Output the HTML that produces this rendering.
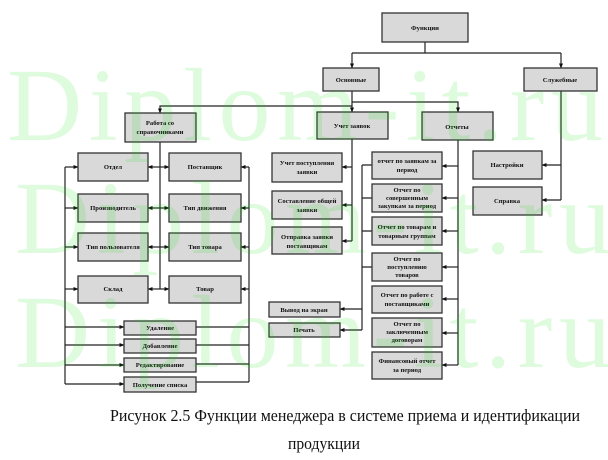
<!DOCTYPE html>
<html><head><meta charset="utf-8"><style>
html,body{margin:0;padding:0;background:#fff;}
svg{display:block;}
.b{fill:#d9d9d9;stroke:#333;stroke-width:1.3;}
.t{font-family:"Liberation Serif",serif;font-size:6.6px;font-weight:bold;fill:#111;text-anchor:middle;}
.l{fill:none;stroke:#222;stroke-width:1.2;}
.a{fill:none;stroke:#222;stroke-width:1.2;marker-end:url(#ah);}
</style></head><body>
<svg width="608" height="460" viewBox="0 0 608 460" xmlns="http://www.w3.org/2000/svg">
<defs>
<marker id="ah" markerWidth="5" markerHeight="5" refX="4.5" refY="2.5" orient="auto" markerUnits="userSpaceOnUse">
<path d="M0,0.5 L5,2.5 L0,4.5 z" fill="#111"/>
</marker>
</defs>

<!-- connectors -->
<path class="l" d="M425,42 V53 M352,53 H561"/>
<path class="a" d="M352,53 V68"/>
<path class="a" d="M561,53 V68"/>
<path class="a" d="M352,91 V112"/>
<path class="a" d="M352,102 H458 V112"/>
<path class="a" d="M352,106 H160 V113"/>
<path class="l" d="M561,91 V200"/>
<path class="a" d="M561,165 H542"/>
<path class="a" d="M561,200 H542"/>
<path class="l" d="M352,139 V241"/>
<path class="a" d="M352,167 H342"/>
<path class="a" d="M352,205 H342"/>
<path class="a" d="M352,241 H342"/>
<path class="l" d="M458,140 V365"/>
<path class="a" d="M458,166 H442"/>
<path class="a" d="M458,198 H442"/>
<path class="a" d="M458,231 H442"/>
<path class="a" d="M458,267 H442"/>
<path class="a" d="M458,299 H442"/>
<path class="a" d="M458,333 H442"/>
<path class="a" d="M458,365 H442"/>
<path class="l" d="M362,165 V330 M362,165 H372 M362,198 H372 M362,231 H372 M362,267 H372"/>
<path class="a" d="M362,309 H340"/>
<path class="a" d="M362,330 H340"/>
<path class="l" d="M160,142 V289"/>
<path class="a" d="M160,167 H148"/><path class="a" d="M160,167 H169"/>
<path class="a" d="M160,208 H148"/><path class="a" d="M160,208 H169"/>
<path class="a" d="M160,247 H148"/><path class="a" d="M160,247 H169"/>
<path class="a" d="M160,289 H148"/><path class="a" d="M160,289 H169"/>
<path class="l" d="M65,167 V384"/>
<path class="a" d="M65,167 H78"/>
<path class="a" d="M65,208 H78"/>
<path class="a" d="M65,247 H78"/>
<path class="a" d="M65,289 H78"/>
<path class="a" d="M65,327 H124"/>
<path class="a" d="M65,345 H124"/>
<path class="a" d="M65,365 H124"/>
<path class="a" d="M65,384 H124"/>
<path class="l" d="M249,167 V382 M196,327 H249 M196,345 H249 M196,364 H249 M196,382 H249"/>
<path class="a" d="M249,167 H241"/>
<path class="a" d="M249,208 H241"/>
<path class="a" d="M249,247 H241"/>
<path class="a" d="M249,289 H241"/>

<!-- boxes -->
<rect class="b" x="382" y="13" width="86" height="29"/><text class="t" x="425" y="30">Функции</text>
<rect class="b" x="323" y="68" width="56" height="23"/><text class="t" x="351" y="82">Основные</text>
<rect class="b" x="524" y="68" width="73" height="23"/><text class="t" x="560" y="82">Служебные</text>
<rect class="b" x="317" y="112" width="71" height="27"/><text class="t" x="352" y="128">Учет заявок</text>
<rect class="b" x="422" y="112" width="71" height="28"/><text class="t" x="457" y="129">Отчеты</text>
<rect class="b" x="125" y="113" width="71" height="29"/><text class="t" x="160" y="125">Работа со</text><text class="t" x="160" y="134">справочниками</text>

<rect class="b" x="272" y="153" width="70" height="29"/><text class="t" x="307" y="165">Учет поступления</text><text class="t" x="307" y="174">заявки</text>
<rect class="b" x="272" y="191" width="70" height="28"/><text class="t" x="307" y="203">Составление общей</text><text class="t" x="307" y="212">заявки</text>
<rect class="b" x="272" y="227" width="70" height="27"/><text class="t" x="307" y="239">Отправка заявки</text><text class="t" x="307" y="248">поставщикам</text>

<rect class="b" x="372" y="152" width="70" height="27"/><text class="t" x="407" y="163">отчет по заявкам за</text><text class="t" x="407" y="172">период</text>
<rect class="b" x="372" y="184" width="70" height="28"/><text class="t" x="407" y="192">Отчет по</text><text class="t" x="407" y="200">совершенным</text><text class="t" x="407" y="208">закупкам за период</text>
<rect class="b" x="372" y="217" width="70" height="28"/><text class="t" x="407" y="229">Отчет по товарам и</text><text class="t" x="407" y="238">товарным группам</text>
<rect class="b" x="372" y="253" width="70" height="28"/><text class="t" x="407" y="261">Отчет по</text><text class="t" x="407" y="269">поступлению</text><text class="t" x="407" y="277">товаров</text>
<rect class="b" x="372" y="286" width="70" height="27"/><text class="t" x="407" y="297">Отчет по работе с</text><text class="t" x="407" y="306">поставщиками</text>
<rect class="b" x="372" y="318" width="70" height="29"/><text class="t" x="407" y="326">Отчет по</text><text class="t" x="407" y="334">заключенным</text><text class="t" x="407" y="342">договорам</text>
<rect class="b" x="372" y="352" width="70" height="27"/><text class="t" x="407" y="363">Финансовый отчет</text><text class="t" x="407" y="372">за период</text>

<rect class="b" x="269" y="302" width="71" height="15"/><text class="t" x="304" y="312">Вывод на экран</text>
<rect class="b" x="269" y="323" width="71" height="14"/><text class="t" x="304" y="332">Печать</text>

<rect class="b" x="473" y="151" width="69" height="28"/><text class="t" x="507" y="167">Настройки</text>
<rect class="b" x="473" y="187" width="69" height="28"/><text class="t" x="507" y="203">Справка</text>

<rect class="b" x="78" y="153" width="70" height="28"/><text class="t" x="113" y="169">Отдел</text>
<rect class="b" x="78" y="194" width="70" height="28"/><text class="t" x="113" y="210">Производитель</text>
<rect class="b" x="78" y="233" width="70" height="28"/><text class="t" x="113" y="249">Тип пользователя</text>
<rect class="b" x="78" y="276" width="70" height="27"/><text class="t" x="113" y="291">Склад</text>
<rect class="b" x="169" y="153" width="72" height="28"/><text class="t" x="205" y="169">Поставщик</text>
<rect class="b" x="169" y="194" width="72" height="28"/><text class="t" x="205" y="210">Тип движения</text>
<rect class="b" x="169" y="233" width="72" height="28"/><text class="t" x="205" y="249">Тип товара</text>
<rect class="b" x="169" y="276" width="72" height="27"/><text class="t" x="205" y="291">Товар</text>

<rect class="b" x="124" y="321" width="72" height="14"/><text class="t" x="160" y="330">Удаление</text>
<rect class="b" x="124" y="339" width="72" height="14"/><text class="t" x="160" y="348">Добавление</text>
<rect class="b" x="124" y="358" width="72" height="14"/><text class="t" x="160" y="367">Редактирование</text>
<rect class="b" x="124" y="377" width="72" height="15"/><text class="t" x="160" y="387">Получение списка</text>

<!-- watermark -->
<g font-family="Liberation Serif, serif" font-size="104" fill="#00e000" fill-opacity="0.13">
<text x="7" y="140" textLength="596" lengthAdjust="spacing">Diplom-it.ru</text>
<text x="15" y="253" textLength="596" lengthAdjust="spacing">Diplom-it.ru</text>
<text x="15" y="367" textLength="596" lengthAdjust="spacing">Diplom-it.ru</text>
</g>

<!-- caption -->
<g font-family="Liberation Serif, serif" font-size="17" fill="#111">
<text x="110" y="421" textLength="470" lengthAdjust="spacingAndGlyphs">Рисунок 2.5 Функции менеджера в системе приема и идентификации</text>
<text x="288" y="449" textLength="72" lengthAdjust="spacingAndGlyphs">продукции</text>
</g>
</svg>
</body></html>
